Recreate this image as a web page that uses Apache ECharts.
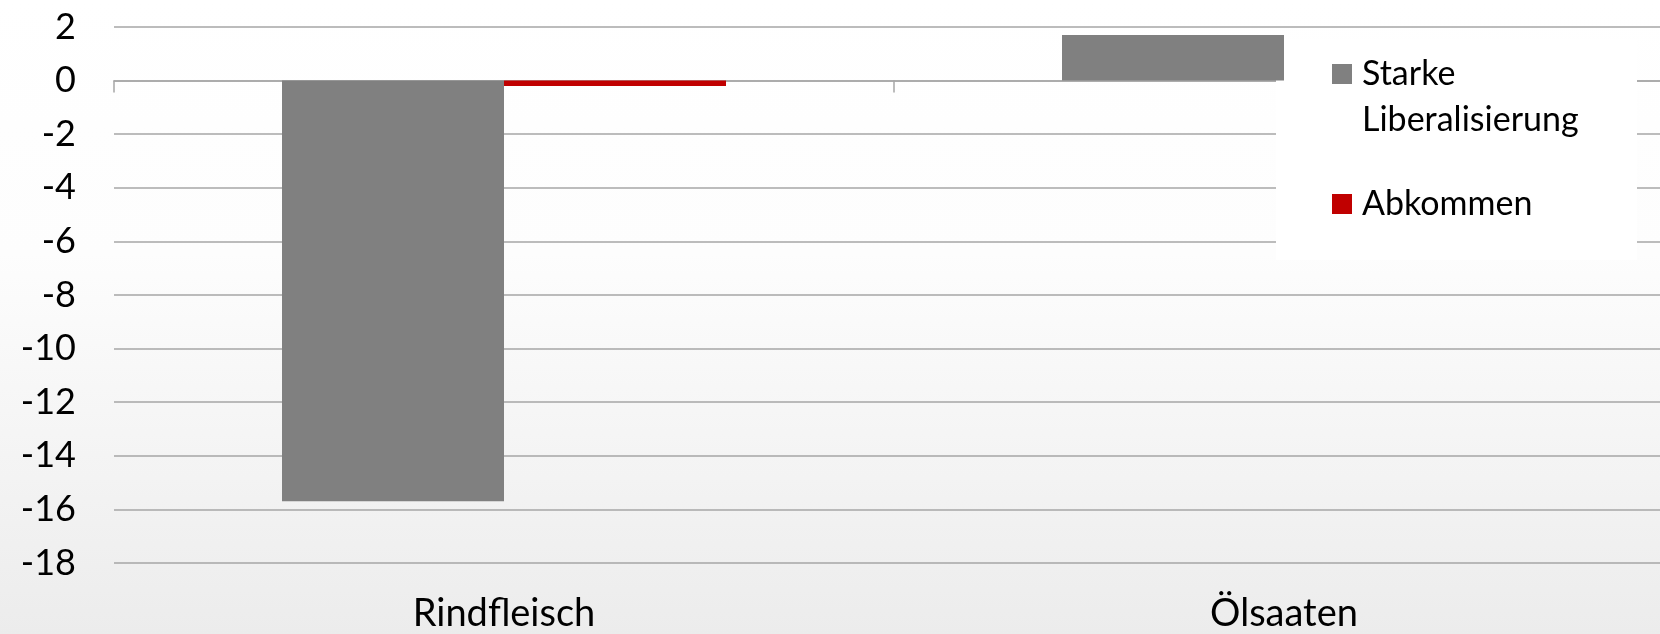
<!DOCTYPE html>
<html>
<head>
<meta charset="utf-8">
<script src="https://cdn.jsdelivr.net/npm/echarts@6/dist/echarts.min.js"></script>
<style>
  html, body { margin: 0; padding: 0; }
  #chart { width: 1660px; height: 634px; }
</style>
</head>
<body>
<div id="chart"></div>
<script>
// data
const categories = ['Rindfleisch', 'Ölsaaten'];
const starkeLiberalisierung = [-15.7, 1.7];
const abkommen = [-0.2, 0];
const yMin = -18;
const yMax = 2;
const yStep = 2;

const fontFamily = 'Lato, "Open Sans", sans-serif';
const gridColor = '#a6a6a6';

const chart = echarts.init(document.getElementById('chart'));

const option = {
  animation: false,
  backgroundColor: {
    type: 'linear', x: 0, y: 0, x2: 0, y2: 1,
    colorStops: [
      { offset: 0, color: '#ffffff' },
      { offset: 0.4, color: '#fdfdfd' },
      { offset: 1, color: '#ececec' }
    ]
  },
  textStyle: { fontFamily: fontFamily, color: '#000' },
  // the plot runs a bit past the right edge of the picture (cropped original)
  grid: { left: 114, width: 1560, top: 27, bottom: 71, containLabel: false, outerBoundsMode: 'none' },
  // white box behind the legend (covers the grid lines, like the original)
  graphic: [{
    type: 'rect',
    z: 1,
    shape: { x: 1276, y: 40, width: 361, height: 220 },
    style: { fill: '#ffffff' }
  }],
  legend: [
    {
      data: ['Starke Liberalisierung'],
      left: 1332, top: 5, padding: 0,
      icon: 'rect', itemWidth: 20, itemHeight: 20,
      // empty first line so the icon sits next to "Starke"
      formatter: () => ' \nStarke\nLiberalisierung',
      textStyle: { fontFamily: fontFamily, fontSize: 34, lineHeight: 46, color: '#000', padding: [0, 0, 0, 5] }
    },
    {
      data: ['Abkommen'],
      left: 1332, top: 181, padding: 0,
      icon: 'rect', itemWidth: 20, itemHeight: 20,
      textStyle: { fontFamily: fontFamily, fontSize: 34, lineHeight: 46, color: '#000', padding: [0, 0, 0, 5] }
    }
  ],
  xAxis: [
    {
      // axis line on zero with the category ticks
      type: 'category',
      data: categories,
      axisLine: { show: true, onZero: true, lineStyle: { color: gridColor, width: 1.5 } },
      axisTick: { show: true, length: 12, lineStyle: { color: gridColor, width: 1.5 } },
      axisLabel: { show: false }
    },
    {
      // labels at the bottom
      type: 'category',
      data: categories,
      position: 'bottom',
      axisLine: { show: false, onZero: false },
      axisTick: { show: false },
      axisLabel: { fontSize: 38, color: '#000', margin: 32, fontFamily: fontFamily }
    }
  ],
  yAxis: {
    type: 'value',
    min: yMin,
    max: yMax,
    interval: yStep,
    axisLine: { show: false },
    axisTick: { show: false },
    axisLabel: { fontSize: 36, color: '#000', margin: 38, fontFamily: fontFamily },
    splitLine: { lineStyle: { color: gridColor, width: 1.5 } }
  },
  series: [
    {
      name: 'Starke Liberalisierung',
      type: 'bar',
      data: starkeLiberalisierung,
      barWidth: 222,
      barGap: '0%',
      itemStyle: { color: '#808080' }
    },
    {
      name: 'Abkommen',
      type: 'bar',
      data: abkommen,
      barWidth: 222,
      barGap: '0%',
      itemStyle: { color: '#c00000' }
    }
  ]
};

chart.setOption(option);
</script>
</body>
</html>
